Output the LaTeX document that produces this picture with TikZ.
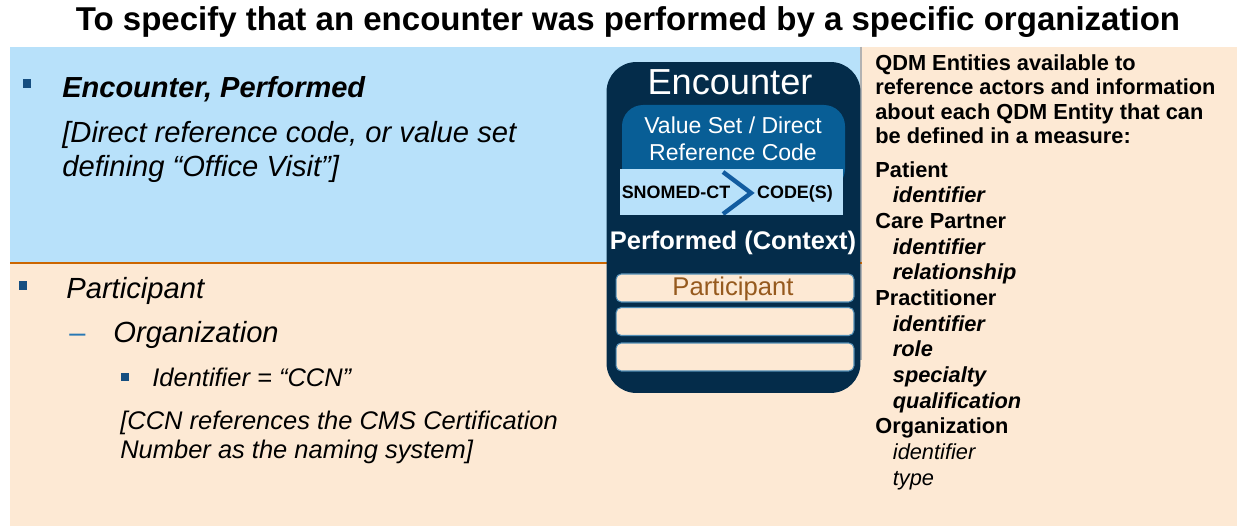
\documentclass[tikz,border=0pt]{standalone}
\usepackage{fontspec}
\setmainfont{Liberation Sans}
\definecolor{skyband}{RGB}{184, 225, 250}
\definecolor{peach}{RGB}{253, 233, 212}
\definecolor{navy}{RGB}{4, 44, 74}
\definecolor{midblue}{RGB}{8, 94, 150}
\definecolor{chevblue}{RGB}{18, 92, 160}
\definecolor{orangeline}{RGB}{204, 102, 0}
\definecolor{bulletblue}{RGB}{22, 78, 128}
\definecolor{dashblue}{RGB}{40, 120, 180}
\definecolor{brownish}{RGB}{150, 90, 30}
\usetikzlibrary{positioning}

\tikzset{
  lefttext/.style={anchor=base west, inner sep=0pt, font=\fontsize{16.6}{20}\selectfont\itshape},
  subtext/.style={anchor=base west, inner sep=0pt, font=\fontsize{14.5}{17}\selectfont\itshape},
  bulletsq/.style={fill=bulletblue, inner sep=0pt, minimum size=0.18cm},
  rowbox/.style={fill=peach, draw=midblue!70, line width=0.6pt, rounded corners=3pt,
    minimum width=4.76cm, minimum height=0.56cm, inner sep=0pt},
}

\begin{document}
\begin{tikzpicture}[x=0.02cm, y=-0.02cm]
  \useasboundingbox (0,0) rectangle (1237,526);
  % Background panels
  \fill[white] (0,0) rectangle (1237,526);
  \fill[skyband] (10,47) rectangle (862,263);
  \fill[peach] (862,47) rectangle (1237,526);
  \fill[peach] (10,263) rectangle (862,526);
  \draw[gray!60, line width=0.6pt] (861,47) -- (861,360);
  \draw[orangeline, line width=1.6pt] (10,263) -- (862,263);

  % Title
  \node[font=\fontsize{18.8}{22}\selectfont\bfseries] (title) at (628,22)
    {To specify that an encounter was performed by a specific organization};

  % Encounter card
  \node[fill=navy, rounded corners=17pt, minimum width=5.08cm, minimum height=6.62cm, inner sep=0pt] (enc) at (733.5,227.5) {};
  \node[text=white, font=\fontsize{20.6}{24}\selectfont] (enctitle) at (730,82) {Encounter};
  \fill[midblue, rounded corners=12pt] (622,105) rectangle (845,190);
  \node[text=white, align=center, font=\fontsize{13.1}{15.3}\selectfont] (valueset) at (733,139)
    {Value Set / Direct\\Reference Code};
  \fill[skyband] (620,169) rectangle (843,215);
  \begin{scope}
    \clip (620,169) rectangle (843,215);
    \draw[chevblue, line width=2.5pt] (723,172) -- (751,193) -- (723,214);
  \end{scope}
  \node[anchor=base, inner sep=0pt, font=\fontsize{10.2}{12}\selectfont\bfseries] (snomed) at (676,199) {SNOMED-CT};
  \node[anchor=base, inner sep=0pt, font=\fontsize{10.2}{12}\selectfont\bfseries] (codes) at (795,199) {CODE(S)};
  \node[anchor=base, inner sep=0pt, text=white, font=\fontsize{14.5}{17}\selectfont\bfseries] (context) at (733,250) {Performed (Context)};
  \node[rowbox] (row1) at (735,288) {};
  \node[anchor=base, inner sep=0pt, text=brownish, font=\fontsize{14.6}{17}\selectfont] (partbox) at (733,296) {Participant};
  \node[rowbox] (row2) at (735,321.5) {};
  \node[rowbox] (row3) at (735,357) {};

  % Left column
  \node[bulletsq] (b1) at (27,84) {};
  \node[lefttext, font=\fontsize{16.5}{20}\selectfont\bfseries\itshape] (encperf) at (62,98) {Encounter, Performed};
  \node[lefttext] (direct1) at (62,143) {[Direct reference code, or value set};
  \node[lefttext] (direct2) at (62,177) {defining “Office Visit"]};
  \node[bulletsq] (b2) at (23,286) {};
  \node[lefttext] (partic) at (66,299) {Participant};
  \node[anchor=base west, inner sep=0pt, text=dashblue, font=\fontsize{16.5}{20}\selectfont] (dash) at (69,343) {–};
  \node[lefttext] (orgn) at (113,343) {Organization};
  \node[bulletsq, minimum size=0.15cm] (b3) at (125,377) {};
  \node[subtext] (ident) at (152,387) {Identifier = “CCN”};
  \node[subtext] (ccn1) at (120,430) {[CCN references the CMS Certification};
  \node[subtext] (ccn2) at (120,459) {Number as the naming system]};

  % QDM entities
  \node[anchor=base west, inner sep=0pt, align=left, font=\fontsize{12.4}{14}\selectfont\bfseries] (qdm) at (875,144)
    {QDM Entities available to\\reference actors and information\\about each QDM Entity that can\\be defined in a measure:};
  \node[anchor=base west, inner sep=0pt, align=left, font=\fontsize{12.4}{14.6}\selectfont\bfseries] (entities) at (875,485)
    {Patient\\
     \hspace*{10pt}\textit{identifier}\\
     Care Partner\\
     \hspace*{10pt}\textit{identifier}\\
     \hspace*{10pt}\textit{relationship}\\
     Practitioner\\
     \hspace*{10pt}\textit{identifier}\\
     \hspace*{10pt}\textit{role}\\
     \hspace*{10pt}\textit{specialty}\\
     \hspace*{10pt}\textit{qualification}\\
     Organization\\
     \hspace*{10pt}\textmd{\textit{identifier}}\\
     \hspace*{10pt}\textmd{\textit{type}}};
\end{tikzpicture}
\end{document}
